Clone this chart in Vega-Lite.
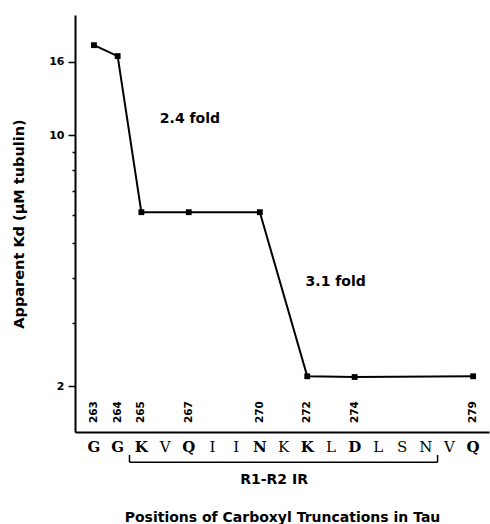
{
  "$schema": "https://vega.github.io/schema/vega-lite/v6.json",
  "width": 414,
  "height": 417,
  "autosize": {"type": "none"},
  "padding": {"left": 75, "top": 15, "right": 1, "bottom": 92},
  "background": "white",
  "config": {"view": {"stroke": null}, "font": "DejaVu Sans"},
  "datasets": {
    "kd": [
      {"position": 263, "kd": 17.8},
      {"position": 264, "kd": 16.6},
      {"position": 265, "kd": 6.1},
      {"position": 267, "kd": 6.1},
      {"position": 270, "kd": 6.1},
      {"position": 272, "kd": 2.13},
      {"position": 274, "kd": 2.12},
      {"position": 279, "kd": 2.13}
    ],
    "residues": [
      {"position": 263, "residue": "G", "truncated": true},
      {"position": 264, "residue": "G", "truncated": true},
      {"position": 265, "residue": "K", "truncated": true},
      {"position": 266, "residue": "V", "truncated": false},
      {"position": 267, "residue": "Q", "truncated": true},
      {"position": 268, "residue": "I", "truncated": false},
      {"position": 269, "residue": "I", "truncated": false},
      {"position": 270, "residue": "N", "truncated": true},
      {"position": 271, "residue": "K", "truncated": false},
      {"position": 272, "residue": "K", "truncated": true},
      {"position": 273, "residue": "L", "truncated": false},
      {"position": 274, "residue": "D", "truncated": true},
      {"position": 275, "residue": "L", "truncated": false},
      {"position": 276, "residue": "S", "truncated": false},
      {"position": 277, "residue": "N", "truncated": false},
      {"position": 278, "residue": "V", "truncated": false},
      {"position": 279, "residue": "Q", "truncated": true}
    ],
    "folds": [
      {"position": 267.05, "kd": 11.1, "label": "2.4 fold"},
      {"position": 273.2, "kd": 3.9, "label": "3.1 fold"}
    ],
    "region": [
      {"start": 264.5, "end": 277.5, "center": 270.6, "label": "R1-R2 IR"}
    ]
  },
  "layer": [
    {
      "data": {"name": "kd"},
      "mark": {"type": "line", "color": "black", "strokeWidth": 2},
      "encoding": {
        "x": {
          "field": "position", "type": "quantitative",
          "scale": {"domain": [262.2, 279.67], "nice": false, "zero": false},
          "axis": {
            "labels": false, "ticks": false, "grid": false,
            "domainColor": "black", "domainWidth": 2,
            "title": "Positions of Carboxyl Truncations in Tau",
            "titleFont": "DejaVu Sans", "titleFontSize": 14, "titleFontWeight": "bold",
            "titleColor": "black", "titlePadding": 78
          }
        },
        "y": {
          "field": "kd", "type": "quantitative",
          "scale": {"type": "log", "domain": [1.49, 21.6], "nice": false},
          "axis": {
            "values": [2, 3, 4, 5, 6, 7, 8, 9, 10, 16],
            "labelExpr": "indexof([2,10,16], datum.value) >= 0 ? format(datum.value, 'd') : ''",
            "labelOverlap": false,
            "grid": false,
            "domainColor": "black", "domainWidth": 2,
            "tickColor": "black", "tickWidth": 1.5,
            "tickSize": {"condition": {"test": "indexof([2,10,16], datum.value) >= 0", "value": 7}, "value": 3},
            "labelFont": "DejaVu Sans", "labelFontSize": 11, "labelFontWeight": "bold",
            "labelColor": "black", "labelPadding": 4,
            "title": "Apparent Kd (µM tubulin)",
            "titleFont": "DejaVu Sans", "titleFontSize": 14.5, "titleFontWeight": "bold",
            "titleColor": "black", "titlePadding": 22
          }
        }
      }
    },
    {
      "data": {"name": "kd"},
      "mark": {"type": "square", "color": "black", "filled": true, "opacity": 1, "size": 34},
      "encoding": {
        "x": {"field": "position", "type": "quantitative"},
        "y": {"field": "kd", "type": "quantitative"}
      }
    },
    {
      "data": {"name": "kd"},
      "mark": {"type": "text", "angle": 270, "align": "left", "baseline": "middle", "dx": 0, "fontSize": 10.5, "fontWeight": "bold", "font": "DejaVu Sans", "color": "black"},
      "encoding": {
        "x": {"field": "position", "type": "quantitative"},
        "y": {"datum": 1.578},
        "text": {"field": "position", "type": "nominal"}
      }
    },
    {
      "data": {"name": "residues"},
      "transform": [{"filter": "datum.truncated"}],
      "mark": {"type": "text", "baseline": "middle", "align": "center", "fontSize": 15, "fontWeight": "bold", "font": "DejaVu Serif", "color": "black"},
      "encoding": {
        "x": {"field": "position", "type": "quantitative"},
        "y": {"datum": 1.352},
        "text": {"field": "residue"}
      }
    },
    {
      "data": {"name": "residues"},
      "transform": [{"filter": "!datum.truncated"}],
      "mark": {"type": "text", "baseline": "middle", "align": "center", "fontSize": 15, "fontWeight": "normal", "font": "DejaVu Serif", "color": "black"},
      "encoding": {
        "x": {"field": "position", "type": "quantitative"},
        "y": {"datum": 1.352},
        "text": {"field": "residue"}
      }
    },
    {
      "data": {"name": "folds"},
      "mark": {"type": "text", "baseline": "middle", "align": "center", "fontSize": 14, "fontWeight": "bold", "font": "DejaVu Sans", "color": "black"},
      "encoding": {
        "x": {"field": "position", "type": "quantitative"},
        "y": {"field": "kd", "type": "quantitative"},
        "text": {"field": "label"}
      }
    },
    {
      "data": {"name": "region"},
      "mark": {"type": "rule", "color": "black", "strokeWidth": 1.5},
      "encoding": {
        "x": {"field": "start", "type": "quantitative"},
        "x2": {"field": "end"},
        "y": {"datum": 1.228}
      }
    },
    {
      "data": {"name": "region"},
      "mark": {"type": "rule", "color": "black", "strokeWidth": 1.5},
      "encoding": {
        "x": {"field": "start", "type": "quantitative"},
        "y": {"datum": 1.228},
        "y2": {"datum": 1.286}
      }
    },
    {
      "data": {"name": "region"},
      "mark": {"type": "rule", "color": "black", "strokeWidth": 1.5},
      "encoding": {
        "x": {"field": "end", "type": "quantitative"},
        "y": {"datum": 1.228},
        "y2": {"datum": 1.286}
      }
    },
    {
      "data": {"name": "region"},
      "mark": {"type": "text", "baseline": "middle", "align": "center", "fontSize": 14, "fontWeight": "bold", "font": "DejaVu Sans", "color": "black"},
      "encoding": {
        "x": {"field": "center", "type": "quantitative"},
        "y": {"datum": 1.094},
        "text": {"field": "label"}
      }
    }
  ]
}
